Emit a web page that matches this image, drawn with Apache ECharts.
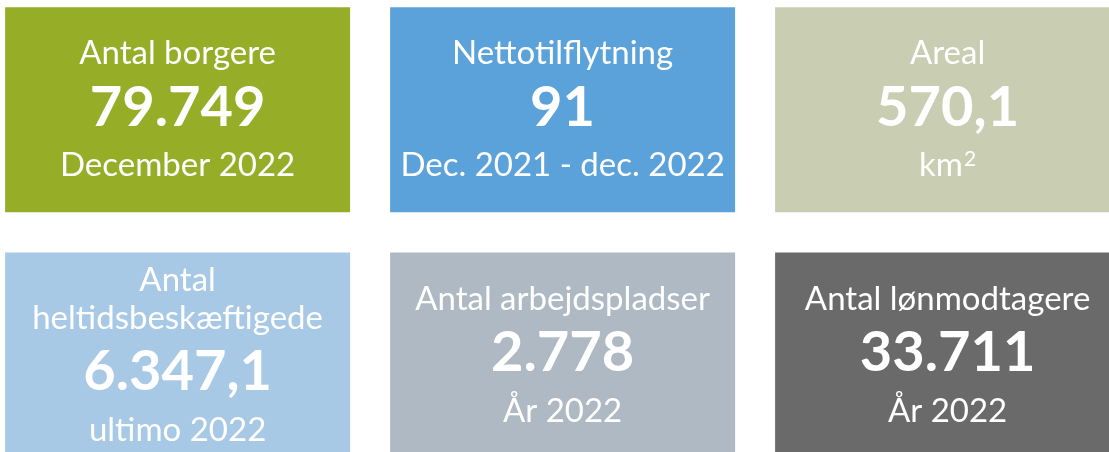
<!DOCTYPE html>
<html>
<head>
<meta charset="utf-8">
<script src="https://cdn.jsdelivr.net/npm/echarts@6/dist/echarts.min.js"></script>
<style>
  html, body { margin: 0; padding: 0; background: #ffffff; }
  #chart { width: 1109px; height: 452px; }
</style>
</head>
<body>
<div id="chart"></div>
<script>
// KPI tiles: one entry per tile, row by row
const tileTitles = [
  "Antal borgere",
  "Nettotilflytning",
  "Areal",
  "Antal\nheltidsbeskæftigede",
  "Antal arbejdspladser",
  "Antal lønmodtagere",
];
const tileValues = ["79.749", "91", "570,1", "6.347,1", "2.778", "33.711"];
// "^" marks a superscript suffix (km^2 -> km²)
const tileSubtitles = [
  "December 2022",
  "Dec. 2021 - dec. 2022",
  "km^2",
  "ultimo 2022",
  "År 2022",
  "År 2022",
];
const tileColumns = [0, 1, 2, 0, 1, 2];
const tileRows = [0, 0, 0, 1, 1, 1];
const tileColors = ["#96ad28", "#5ba2da", "#c9cdb2", "#a7c9e5", "#aeb9c4", "#6a6a6a"];

const TILE_W = 345;
const TILE_H = 205;
const FONT = "Lato, 'Open Sans', sans-serif";

const chart = echarts.init(document.getElementById("chart"));

function subtitleRich(text) {
  const [base, sup] = text.split("^");
  return sup ? `{s|${base}}{sup|${sup}}` : `{s|${base}}`;
}

// Axis ranges chosen so that column pitch is ~385px and row pitch ~245px,
// with the right column and bottom row running off the canvas edge.
const option = {
  animation: false,
  backgroundColor: "#ffffff",
  grid: { left: 0, top: 0, right: 0, bottom: 0 },
  xAxis: { type: "value", min: -0.4613, max: 2.4192, show: false },
  yAxis: { type: "value", min: -0.447, max: 1.395, inverse: true, show: false },
  series: [
    {
      type: "custom",
      clip: false,
      data: tileValues.map((_, i) => [tileColumns[i], tileRows[i], i]),
      renderItem: (params, api) => {
        const i = api.value(2);
        const [cx, cy] = api.coord([api.value(0), api.value(1)]);
        const titleText = tileTitles[i]
          .split("\n")
          .map((line) => `{t|${line}}`)
          .join("\n");
        return {
          type: "group",
          children: [
            {
              type: "rect",
              shape: { x: cx - TILE_W / 2, y: cy - TILE_H / 2, width: TILE_W, height: TILE_H },
              style: { fill: tileColors[i] },
            },
            {
              type: "text",
              x: cx,
              y: cy + 2,
              style: {
                text: `${titleText}\n{v|${tileValues[i]}}\n${subtitleRich(tileSubtitles[i])}`,
                align: "center",
                verticalAlign: "middle",
                fill: "#ffffff",
                rich: {
                  t: { fontFamily: FONT, fontSize: 33, lineHeight: 38, fill: "#ffffff" },
                  v: { fontFamily: FONT, fontSize: 56, fontWeight: "bold", lineHeight: 70, fill: "#ffffff" },
                  s: { fontFamily: FONT, fontSize: 33, lineHeight: 46, fill: "#ffffff" },
                  sup: {
                    fontFamily: FONT,
                    fontSize: 21,
                    lineHeight: 21,
                    verticalAlign: "top",
                    padding: [6, 0, 0, 1],
                    fill: "#ffffff",
                  },
                },
              },
            },
          ],
        };
      },
    },
  ],
};

chart.setOption(option);
</script>
</body>
</html>
